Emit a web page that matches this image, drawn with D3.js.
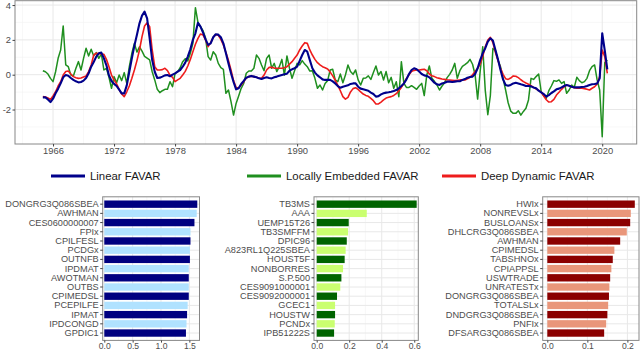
<!DOCTYPE html>
<html>
<head>
<meta charset="utf-8">
<script src="https://cdn.jsdelivr.net/npm/d3@7"></script>
<style>
  body { margin: 0; background: #fff; }
  svg { display: block; font-family: "Liberation Sans", Arial, sans-serif; }
</style>
</head>
<body>
<svg width="640" height="352"></svg>
<script>
// quarterly factor estimates, 1965Q1 .. 2020Q3
const startYear = 1965;

const linearFavar = [
  -1.30,-1.30,-1.42,-1.57,-1.38,-1.07,-0.80,-0.50,-0.15,-0.02,
  -0.06,-0.19,-0.30,-0.38,-0.44,-0.42,-0.34,-0.19,0.08,0.46,
  0.73,1.04,1.23,1.27,0.94,0.54,-0.04,-0.36,-0.53,-0.65,
  -0.86,-1.07,-1.07,-0.61,0.17,0.94,1.67,2.30,2.95,3.39,
  3.62,3.24,2.09,0.84,0.17,-0.19,-0.17,-0.11,-0.04,-0.02,
  -0.09,0.00,0.08,0.18,0.27,0.46,0.69,1.04,1.46,2.00,
  2.38,2.98,2.76,2.42,2.03,1.71,1.80,2.15,2.32,2.30,
  2.15,1.80,1.23,0.65,0.08,-0.42,-0.84,-0.78,-0.53,-0.36,
  -0.17,-0.11,-0.07,-0.11,-0.15,-0.21,-0.25,-0.19,-0.15,-0.19,
  -0.21,-0.15,-0.11,-0.06,-0.02,0.02,0.06,0.23,0.31,0.37,
  0.46,0.79,1.13,1.42,1.32,0.84,0.37,0.12,-0.04,-0.15,
  -0.27,-0.30,-0.30,-0.30,-0.38,-0.50,-0.65,-0.75,-0.69,-0.65,
  -0.61,-0.53,-0.50,-0.50,-0.69,-0.80,-0.84,-0.88,-0.92,-1.03,
  -1.11,-1.26,-1.23,-1.13,-1.07,-1.03,-1.01,-0.98,-0.94,-0.88,
  -0.78,-0.65,-0.50,-0.27,0.04,0.27,0.37,0.31,0.18,0.04,
  -0.04,-0.07,-0.15,-0.30,-0.46,-0.55,-0.59,-0.50,-0.46,-0.40,
  -0.40,-0.42,-0.40,-0.38,-0.38,-0.30,-0.25,-0.17,-0.13,-0.11,
  0.04,0.37,0.84,1.23,1.52,1.90,2.09,1.96,1.42,0.88,
  0.27,-0.27,-0.59,-0.63,-0.59,-0.50,-0.46,-0.50,-0.55,-0.59,
  -0.65,-0.65,-0.67,-0.73,-0.78,-0.92,-1.01,-1.11,-1.26,-1.17,
  -1.05,-0.96,-0.84,-0.80,-0.73,-0.65,-0.59,-0.63,-0.69,-0.73,
  -0.73,-0.73,-0.71,-0.69,-0.65,-0.59,-0.55,-0.53,-0.50,-0.21,
  2.38,1.40,0.30
];

const locallyEmbedded = [
  0.23,0.17,0.04,-0.21,-0.40,0.17,0.94,1.42,2.80,0.56,
  0.46,-0.02,-0.07,0.37,0.75,0.27,0.94,1.52,1.08,1.46,
  1.08,1.27,0.94,1.19,0.27,0.37,-0.15,-0.78,-0.11,-0.46,
  -0.02,-0.34,0.12,-0.50,0.46,1.23,1.80,1.30,1.60,1.35,
  1.05,0.95,0.85,0.17,-0.30,-0.84,-1.03,-0.92,-0.84,-0.84,
  -0.40,-0.69,0.08,0.16,0.40,0.75,0.92,0.79,1.23,1.80,
  3.85,3.00,2.76,2.53,2.09,1.04,0.84,1.32,1.13,0.65,
  0.40,0.31,-1.07,-0.88,-1.55,-2.32,-1.65,-1.22,-0.78,-0.50,
  0.08,0.21,0.21,0.37,1.13,0.94,0.56,0.23,0.94,1.13,
  0.37,0.65,0.18,0.46,0.88,-0.02,1.08,0.37,-0.21,0.23,
  0.65,0.56,0.81,0.61,0.46,0.21,0.23,-0.21,-0.78,-0.59,
  -0.88,-0.50,-0.34,0.27,0.31,-0.30,-0.40,0.04,-0.46,-0.02,
  0.56,0.18,0.02,0.27,-0.30,-0.59,-0.21,-0.19,-0.07,-0.27,
  0.12,0.50,-0.02,0.18,-0.30,0.18,-0.46,-0.15,-0.78,-0.40,
  -1.26,0.75,-0.50,-0.73,-0.73,-0.63,-0.73,-0.84,-0.65,-0.50,
  -1.20,-0.02,0.50,-0.21,-0.38,-0.59,-0.88,-0.65,-0.46,-0.17,
  0.02,0.27,0.65,-0.21,0.23,0.48,0.58,0.69,0.88,0.60,
  0.00,-1.40,0.20,1.60,-0.90,-2.30,-1.20,1.50,1.40,0.84,
  0.46,-0.21,-0.88,-1.61,-2.09,-2.22,-2.22,-2.07,-2.32,-2.11,
  -1.93,-1.45,-0.21,-0.27,-0.11,0.04,-0.98,-1.22,-1.36,-0.92,
  -0.65,-0.34,-0.38,-0.30,-0.50,-0.40,-1.07,-0.88,-0.59,-0.73,
  -0.15,-0.34,-0.46,-0.40,-0.21,0.23,0.46,0.56,-0.30,-0.88,
  -3.56,0.70,0.85
];

const deepDynamic = [
  -1.26,-1.28,-1.34,-1.42,-1.22,-0.98,-0.65,-0.40,-0.02,0.18,
  0.21,0.04,-0.11,-0.17,-0.21,-0.19,-0.13,-0.07,0.18,0.56,
  1.13,1.23,1.21,1.19,1.17,0.88,0.46,-0.02,-0.30,-0.53,
  -0.84,-1.11,-1.26,-0.98,-0.65,-0.21,0.27,0.81,1.42,2.19,
  2.80,2.99,2.76,1.42,0.46,0.27,0.27,0.29,0.37,0.23,
  -0.02,-0.15,-0.40,-0.30,-0.21,-0.02,0.19,0.50,0.88,1.32,
  1.75,2.09,2.34,2.28,1.99,1.61,1.84,2.15,2.30,2.26,
  2.03,1.71,1.27,0.81,0.27,-0.34,-0.73,-0.76,-0.59,-0.40,
  -0.19,-0.11,-0.09,-0.11,-0.15,-0.19,-0.21,-0.02,0.27,0.42,
  0.42,0.38,0.37,0.37,0.37,0.40,0.46,0.61,0.75,0.94,
  1.13,1.42,1.65,1.84,1.80,1.42,1.13,0.88,0.69,0.56,
  0.46,0.40,0.33,0.15,-0.07,-0.32,-0.61,-0.92,-1.26,-1.40,
  -1.30,-0.99,-0.80,-0.75,-0.84,-0.99,-1.11,-1.19,-1.24,-1.36,
  -1.49,-1.68,-1.68,-1.57,-1.45,-1.34,-1.30,-1.26,-1.19,-1.09,
  -0.92,-0.73,-0.50,-0.21,0.00,0.19,0.25,0.27,0.27,0.29,
  0.31,0.23,0.04,-0.06,-0.11,-0.17,-0.21,-0.25,-0.27,-0.29,
  -0.30,-0.32,-0.34,-0.32,-0.30,-0.30,-0.30,-0.23,-0.15,0.00,
  0.18,0.37,0.61,1.04,1.61,1.99,2.15,1.84,1.27,0.81,
  0.37,0.02,-0.23,-0.27,-0.19,-0.07,-0.09,-0.17,-0.29,-0.40,
  -0.48,-0.55,-0.63,-0.73,-0.82,-0.90,-1.01,-1.22,-1.44,-1.57,
  -1.55,-1.42,-1.17,-1.01,-0.84,-0.69,-0.59,-0.63,-0.69,-0.75,
  -0.78,-0.78,-0.78,-0.80,-0.84,-0.88,-0.78,-0.69,-0.53,-0.11,
  1.42,1.04,0.08
];

const yearTicks = [1966, 1972, 1978, 1984, 1990, 1996, 2002, 2008, 2014, 2020];
const factorTicks = [-2, 0, 2, 4];
const seriesNames = ['Linear FAVAR', 'Locally Embedded FAVAR', 'Deep Dynamic FAVAR'];

// variable importance, one list per model
const linearVars = ['DONGRG3Q086SBEA', 'AWHMAN', 'CES0600000007', 'FPIx', 'CPILFESL', 'PCDGx', 'OUTNFB',
  'IPDMAT', 'AWOTMAN', 'OUTBS', 'CPIMEDSL', 'PCEPILFE', 'IPMAT', 'IPDCONGD', 'GPDIC1'];
const linearImp = [1.64, 1.63, 1.59, 1.52, 1.52, 1.51, 1.51, 1.49, 1.49, 1.49, 1.49, 1.47, 1.46, 1.45, 1.44];

const localVars = ['TB3MS', 'AAA', 'UEMP15T26', 'TB3SMFFM', 'DPIC96', 'A823RL1Q225SBEA', 'HOUST5F',
  'NONBORRES', 'S.P.500', 'CES9091000001', 'CES9092000001', 'GCEC1', 'HOUSTW', 'PCNDx', 'IPB51222S'];
const localImp = [0.615, 0.308, 0.197, 0.193, 0.185, 0.178, 0.172, 0.162, 0.152, 0.145, 0.125, 0.113, 0.113, 0.111, 0.107];

const deepVars = ['HWIx', 'NONREVSLx', 'BUSLOANSx', 'DHLCRG3Q086SBEA', 'AWHMAN', 'CPIMEDSL', 'TABSHNOx',
  'CPIAPPSL', 'USWTRADE', 'UNRATESTx', 'DONGRG3Q086SBEA', 'TOTALSLx', 'DNDGRG3Q086SBEA', 'PNFIx', 'DFSARG3Q086SBEA'];
const deepImp = [0.2185, 0.2085, 0.207, 0.1985, 0.182, 0.1675, 0.1635, 0.160, 0.157, 0.155, 0.154, 0.152, 0.150, 0.147, 0.142];

const svg = d3.select('svg');
const axisFont = 9.4;

// ---------- top time-series panel ----------
const x = d3.scaleLinear().domain([1962.26, 2023.39]).range([15, 636.7]);
const y = d3.scaleLinear().domain([-3.98, 4.25]).range([144, 0.7]);
const [px0, px1] = x.range();
const [py1, py0] = y.range();

const topPanel = svg.append('g');
topPanel.append('rect').attr('x', px0).attr('y', py0).attr('width', px1 - px0).attr('height', py1 - py0).attr('fill', '#fff');

const minorYears = d3.range(1963, 2024, 6);
const minorFactor = [-3, -1, 1, 3];
topPanel.selectAll('.gx-minor').data(minorYears).enter().append('line')
  .attr('x1', d => x(d)).attr('x2', d => x(d)).attr('y1', py0).attr('y2', py1)
  .attr('stroke', '#f3f3f3').attr('stroke-width', 0.6);
topPanel.selectAll('.gy-minor').data(minorFactor).enter().append('line')
  .attr('x1', px0).attr('x2', px1).attr('y1', d => y(d)).attr('y2', d => y(d))
  .attr('stroke', '#f3f3f3').attr('stroke-width', 0.6);
topPanel.selectAll('.gx').data(yearTicks).enter().append('line')
  .attr('x1', d => x(d)).attr('x2', d => x(d)).attr('y1', py0).attr('y2', py1)
  .attr('stroke', '#e8e8e8').attr('stroke-width', 1);
topPanel.selectAll('.gy').data(factorTicks).enter().append('line')
  .attr('x1', px0).attr('x2', px1).attr('y1', d => y(d)).attr('y2', d => y(d))
  .attr('stroke', '#e8e8e8').attr('stroke-width', 1);

svg.append('clipPath').attr('id', 'clipTop').append('rect')
  .attr('x', px0).attr('y', py0).attr('width', px1 - px0).attr('height', py1 - py0);

const line = d3.line()
  .x((d, i) => x(startYear + i / 4))
  .y(d => y(d));

const series = [
  { vals: locallyEmbedded, color: '#1f8f1f', w: 1.5 },
  { vals: deepDynamic, color: '#ee1c1c', w: 1.6 },
  { vals: linearFavar, color: '#00008b', w: 2.1 }
];
topPanel.append('g').attr('clip-path', 'url(#clipTop)')
  .selectAll('path').data(series).enter().append('path')
  .attr('d', s => line(s.vals))
  .attr('fill', 'none')
  .attr('stroke', s => s.color)
  .attr('stroke-width', s => s.w)
  .attr('stroke-linejoin', 'round');

topPanel.append('rect').attr('x', px0).attr('y', py0).attr('width', px1 - px0).attr('height', py1 - py0)
  .attr('fill', 'none').attr('stroke', '#888').attr('stroke-width', 1);

const xAxis = topPanel.append('g').attr('transform', `translate(0,${py1})`)
  .call(d3.axisBottom(x).tickValues(yearTicks).tickFormat(d3.format('d')).tickSize(2.5).tickPadding(0.5));
const yAxis = topPanel.append('g').attr('transform', `translate(${px0},0)`)
  .call(d3.axisLeft(y).tickValues(factorTicks).tickSize(2.5).tickPadding(1.5));

function styleAxis(g, size) {
  g.select('.domain').remove();
  g.selectAll('.tick line').attr('stroke', '#444');
  g.selectAll('.tick text').attr('fill', '#4d4d4d').style('font-size', (size || axisFont) + 'px')
    .style('font-family', '"Liberation Sans", Arial, sans-serif');
}
styleAxis(xAxis);
styleAxis(yAxis);
yAxis.selectAll('.tick text').text(d => d < 0 ? '-' + Math.abs(d) : d);

// ---------- legend ----------
const legendItems = [
  { name: seriesNames[0], color: '#00008b', x: 51 },
  { name: seriesNames[1], color: '#1f8f1f', x: 247 },
  { name: seriesNames[2], color: '#ee1c1c', x: 442 }
];
const legend = svg.append('g').attr('transform', 'translate(0,176)');
const li = legend.selectAll('g').data(legendItems).enter().append('g')
  .attr('transform', d => `translate(${d.x},0)`);
li.append('line').attr('x1', 0).attr('x2', 34).attr('y1', 0).attr('y2', 0)
  .attr('stroke', d => d.color).attr('stroke-width', 3.2);
li.append('text').attr('x', 39).attr('y', 0).attr('dy', '0.36em')
  .style('font-size', '11.4px').attr('fill', '#1a1a1a').text(d => d.name);

// ---------- importance bar panels ----------
const barTop = 196.8, barBottom = 340.4;

function barPanel(names, vals, dark, light, left, right, domain, ticks, minor, fmt) {
  const bx = d3.scaleLinear().domain(domain).range([left, right]);
  const by = d3.scaleBand().domain(names).range([barTop, barBottom]).paddingInner(0.2).paddingOuter(0.4);
  const g = svg.append('g');
  g.append('rect').attr('x', left).attr('y', barTop).attr('width', right - left).attr('height', barBottom - barTop)
    .attr('fill', '#fff');
  g.selectAll('.mn').data(minor).enter().append('line')
    .attr('x1', d => bx(d)).attr('x2', d => bx(d)).attr('y1', barTop).attr('y2', barBottom)
    .attr('stroke', '#f3f3f3').attr('stroke-width', 0.6);
  g.selectAll('.mj').data(ticks).enter().append('line')
    .attr('x1', d => bx(d)).attr('x2', d => bx(d)).attr('y1', barTop).attr('y2', barBottom)
    .attr('stroke', '#e8e8e8').attr('stroke-width', 1);
  g.selectAll('.hy').data(names).enter().append('line')
    .attr('x1', left).attr('x2', right)
    .attr('y1', d => by(d) + by.bandwidth() / 2).attr('y2', d => by(d) + by.bandwidth() / 2)
    .attr('stroke', '#e8e8e8').attr('stroke-width', 1);
  g.selectAll('.bar').data(names).enter().append('rect')
    .attr('x', bx(0))
    .attr('y', d => by(d))
    .attr('width', (d, i) => bx(vals[i]) - bx(0))
    .attr('height', by.bandwidth())
    .attr('fill', (d, i) => i % 2 === 0 ? dark : light);
  g.append('rect').attr('x', left).attr('y', barTop).attr('width', right - left).attr('height', barBottom - barTop)
    .attr('fill', 'none').attr('stroke', '#888').attr('stroke-width', 1);
  const ax = g.append('g').attr('transform', `translate(0,${barBottom})`)
    .call(d3.axisBottom(bx).tickValues(ticks).tickFormat(fmt).tickSize(2.2).tickPadding(0.3));
  const ay = g.append('g').attr('transform', `translate(${left},0)`)
    .call(d3.axisLeft(by).tickSize(2.5).tickPadding(1.5));
  styleAxis(ax, 8.6);
  styleAxis(ay, 9.2);
}

barPanel(linearVars, linearImp, '#000080', '#b0e2ff', 102.7, 199.5, [-0.028, 1.679],
  [0, 0.5, 1, 1.5], [0.25, 0.75, 1.25], d3.format('.1f'));
barPanel(localVars, localImp, '#006400', '#caff70', 314, 418.3, [-0.0166, 0.625],
  [0, 0.2, 0.4, 0.6], [0.1, 0.3, 0.5], d3.format('.1f'));
barPanel(deepVars, deepImp, '#8b0000', '#e9967a', 542.7, 639, [-0.0115, 0.229],
  [0, 0.1, 0.2], [0.05, 0.15], d3.format('.1f'));
</script>
</body>
</html>
